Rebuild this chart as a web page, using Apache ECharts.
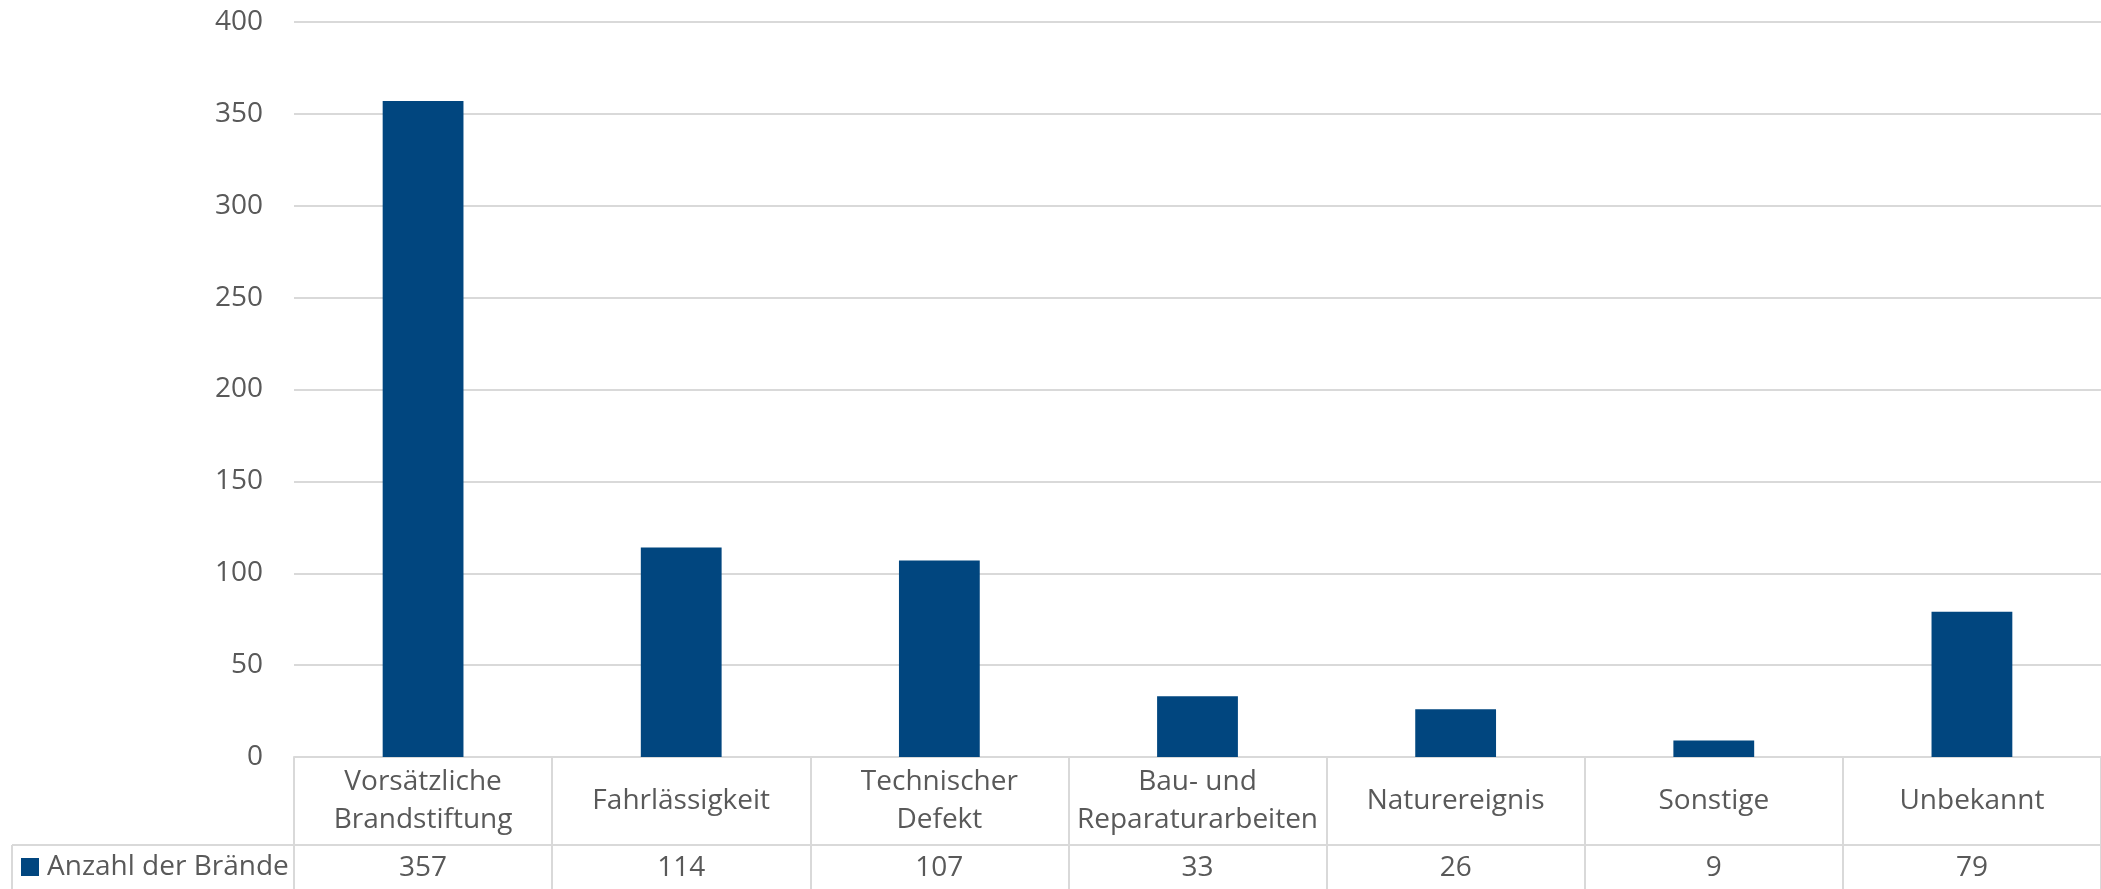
<!DOCTYPE html>
<html><head><meta charset="utf-8">
<script src="https://cdn.jsdelivr.net/npm/echarts@6/dist/echarts.min.js"></script>
<style>html,body{margin:0;padding:0;background:#fff}#c{width:2101px;height:889px}</style>
</head><body><div id="c"></div>
<script>
const categories = ['Vorsätzliche\nBrandstiftung', 'Fahrlässigkeit', 'Technischer\nDefekt', 'Bau- und\nReparaturarbeiten', 'Naturereignis', 'Sonstige', 'Unbekannt'];
const seriesName = 'Anzahl der Brände';
const values = [357, 114, 107, 33, 26, 9, 79];
const yMin = 0, yMax = 400, yInterval = 50;

const FONT = 'Open Sans';
const TXT = '#595959';
const LINE = '#D9D9D9';
const BAR = '#01467F';

const chart = echarts.init(document.getElementById('c'));
chart.setOption({
  animation: false,
  backgroundColor: '#fff',
  textStyle: { fontFamily: FONT, color: TXT },
  grid: { left: 294, width: 1813, top: 22, height: 735, containLabel: false },
  legend: {
    data: [seriesName], left: 21, top: 853, icon: 'rect', itemWidth: 18, itemHeight: 18,
    itemGap: 0, padding: 0,
    textStyle: { fontFamily: FONT, fontSize: 28, color: TXT, padding: [0, 0, 0, 3] }
  },
  xAxis: [{
    type: 'category', data: categories, position: 'bottom',
    axisLine: { show: true, lineStyle: { color: LINE, width: 2 } },
    axisTick: { show: true, alignWithLabel: false, length: 132, lineStyle: { color: LINE, width: 2 } },
    axisLabel: { interval: 0, fontFamily: FONT, fontSize: 28, lineHeight: 38, color: TXT, margin: 44, verticalAlign: 'middle' }
  }, {
    type: 'category', data: values.map(String), position: 'bottom',
    axisLine: { show: false }, axisTick: { show: false },
    axisLabel: { interval: 0, fontFamily: FONT, fontSize: 28, color: TXT, margin: 111, verticalAlign: 'middle' }
  }],
  yAxis: {
    type: 'value', min: yMin, max: yMax, interval: yInterval,
    axisLine: { show: false }, axisTick: { show: false },
    splitLine: { lineStyle: { color: LINE, width: 2 } },
    axisLabel: { fontFamily: FONT, fontSize: 28, color: TXT, margin: 31 }
  },
  series: [{
    name: seriesName, type: 'bar', data: values, xAxisIndex: 0,
    barCategoryGap: '68.7%', itemStyle: { color: BAR }
  }],
  graphic: [
    { type: 'line', shape: { x1: 12, y1: 845, x2: 2101, y2: 845 }, style: { stroke: LINE, lineWidth: 2 }, silent: true },
    { type: 'line', shape: { x1: 12, y1: 845, x2: 12, y2: 889 }, style: { stroke: LINE, lineWidth: 2 }, silent: true }
  ]
});
</script></body></html>
